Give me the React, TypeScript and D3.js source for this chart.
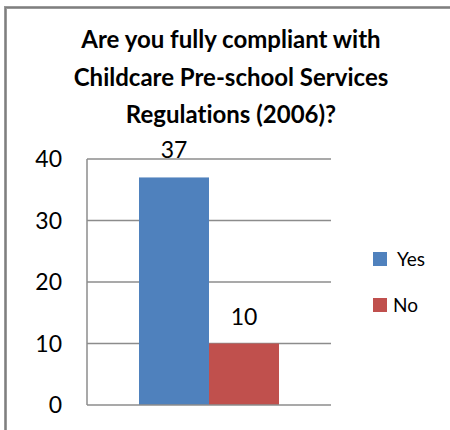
import React from "react";
import * as d3 from "d3";

const categories = ["Q1"];
const seriesNames = ["Yes", "No"];
const seriesValues = [37, 10];
const seriesColors = ["#4F81BD", "#C0504D"];
const yTicks = [0, 10, 20, 30, 40];
const titleLines = [
  "Are you fully compliant with",
  "Childcare Pre-school Services",
  "Regulations (2006)?",
];

export default function App() {
  const W = 450, H = 430;
  const left = 87, right = 331, top = 159, bottom = 405;
  const y = d3.scaleLinear().domain([0, 40]).range([bottom, top]);
  const x0 = d3.scaleBand().domain(categories).range([left, right]).paddingInner(0).paddingOuter(0.3714);
  const x1 = d3.scaleBand().domain(seriesNames).range([0, x0.bandwidth()]);
  const font = "Lato, 'Open Sans', sans-serif";
  const gx = x0(categories[0]) as number;
  return (
    <svg width={W} height={H} style={{ position: "absolute", left: 0, top: 0, background: "#fff", fontVariantLigatures: "none" }}>
      <rect x={5.5} y={7.5} width={W + 10} height={H + 10} fill="none" stroke="#9a9a9a" strokeWidth={3} />
      <line x1={5.5} y1={7.5} x2={5.5} y2={H} stroke="#7f7f7f" strokeWidth={1} />
      <line x1={5.5} y1={7.5} x2={W} y2={7.5} stroke="#7f7f7f" strokeWidth={1} />
      {titleLines.map((t, i) => (
        <text key={i} x={231} y={48 + i * 37.5} textAnchor="middle" fontFamily={font} fontWeight="bold" fontSize={24} fill="#000">
          {t}
        </text>
      ))}
      {yTicks.filter((t) => t > 0).map((t) => (
        <line key={t} x1={left} x2={right} y1={y(t)} y2={y(t)} stroke="#8c8c8c" strokeWidth={1.5} />
      ))}
      {seriesNames.map((s, i) => (
        <rect key={s} x={gx + (x1(s) as number)} y={y(seriesValues[i])} width={x1.bandwidth()} height={y(0) - y(seriesValues[i])} fill={seriesColors[i]} />
      ))}
      <line x1={left} x2={left} y1={top} y2={bottom} stroke="#8c8c8c" strokeWidth={1.5} />
      <line x1={left} x2={right} y1={bottom} y2={bottom} stroke="#8c8c8c" strokeWidth={1.5} />
      {yTicks.map((t) => (
        <text key={t} x={62} y={y(t) + 8} textAnchor="end" fontFamily={font} fontSize={23} fill="#000">
          {t}
        </text>
      ))}
      {seriesNames.map((s, i) => (
        <text key={s} x={gx + (x1(s) as number) + x1.bandwidth() / 2} y={y(seriesValues[i]) - 19} textAnchor="middle" fontFamily={font} fontSize={23} fill="#000">
          {seriesValues[i]}
        </text>
      ))}
      {seriesNames.map((s, i) => (
        <g key={s} transform={`translate(373, ${252 + i * 46})`}>
          <rect x={0} y={0} width={14} height={14} fill={seriesColors[i]} />
          <text x={i === 0 ? 24 : 20} y={13.5} fontFamily={font} fontSize={19} fill="#000">
            {s}
          </text>
        </g>
      ))}
    </svg>
  );
}
